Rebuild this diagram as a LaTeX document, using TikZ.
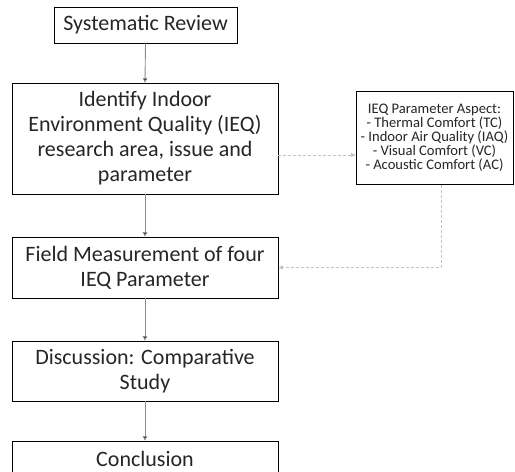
\documentclass[tikz,border=0pt]{standalone}
\usepackage{fontspec}
\setmainfont{Carlito}
\usetikzlibrary{arrows.meta,calc}
\definecolor{linegray}{HTML}{8C8C8C}
\definecolor{dashgray}{HTML}{C4C4C4}
\begin{document}
\begin{tikzpicture}[x=1pt,y=-1pt,
  box/.style={draw=black,line width=0.9pt,fill=white,align=center,inner sep=0pt,font=\fontsize{22}{25}\selectfont,text=black!85},
  smallbox/.style={draw=black,line width=0.8pt,fill=white,align=center,inner sep=0pt,font=\fontsize{14.6}{14}\selectfont,text=black!85},
  flow/.style={draw=linegray,line width=0.9pt,-{Triangle[length=4.5pt,width=4.5pt,fill=black]}},
  side/.style={draw=dashgray,line width=0.8pt,dashed,dash pattern=on 3pt off 2pt,-{Triangle[length=4.5pt,width=4pt,fill=dashgray]}}
]
\useasboundingbox (0,0) rectangle (515,472);
\clip (0,0) rectangle (515,472);
\node[box,minimum width=183pt,minimum height=36pt] (sr) at (145.5,25) {Systematic Review};
\node[box,minimum width=266pt,minimum height=111pt] (id) at (145,138.5) {Identify Indoor\\Environment Quality (IEQ)\\research area, issue and\\parameter};
\node[smallbox,minimum width=157pt,minimum height=93pt] (as) at (434.5,138) {IEQ Parameter Aspect:\\- Thermal Comfort (TC)\\- Indoor Air Quality (IAQ)\\- Visual Comfort (VC)\\- Acoustic Comfort (AC)};
\node[box,minimum width=266pt,minimum height=61pt] (fm) at (145,267.5) {Field Measurement of four\\IEQ Parameter};
\node[box,minimum width=266pt,minimum height=60pt] (ds) at (145,371) {Discussion: Comparative\\Study};
\node[box,minimum width=266pt,minimum height=60pt] (cc) at (145,471) {};
\node[font=\fontsize{22}{25}\selectfont,text=black!85] (cct) at (145,459) {Conclusion};
\draw[flow] (sr.south) -- (id.north);
\draw[flow] (id.south) -- (fm.north);
\draw[flow] (fm.south) -- (ds.north);
\draw[flow] (ds.south) -- (cc.north);
\coordinate (a1) at ($(id.east)+(0,16.5)$);
\draw[side] (a1) -- (a1 -| as.west);
\coordinate (b1) at ($(as.south)+(6.5,0)$);
\draw[side] (b1) |- (fm.east);
\end{tikzpicture}
\end{document}
